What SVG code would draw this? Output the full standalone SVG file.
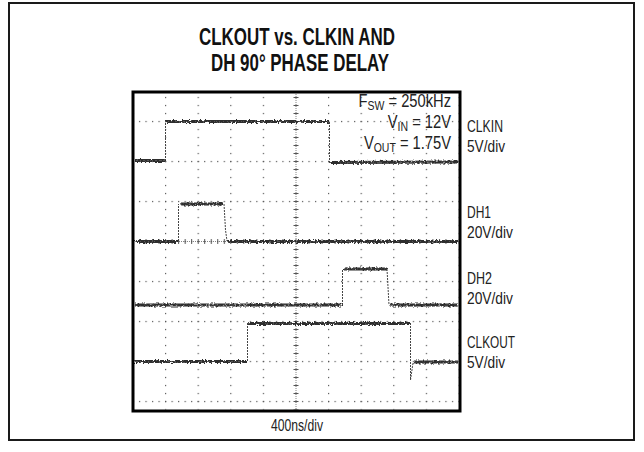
<svg xmlns="http://www.w3.org/2000/svg" width="644" height="452" viewBox="0 0 644 452">
<style>
.lbl{font-family:"Liberation Sans Narrow","Liberation Sans",Arial,sans-serif;font-size:16.5px;fill:#222}
.cond{font-family:"Liberation Sans",Arial,sans-serif;font-size:17.5px;fill:#222;text-anchor:end}
.sub{font-size:12.5px}
.ttl{font-family:"Liberation Sans Narrow","Liberation Sans",Arial,sans-serif;font-size:23px;font-weight:bold;fill:#111}
.lvl{fill:none;stroke:#2e2e2e;stroke-width:3;filter:url(#noise)}
.lvl2{fill:none;stroke:#555;stroke-width:1.2;stroke-dasharray:3 2 1 2;filter:url(#noise2)}
.edge{fill:none;stroke:#444;stroke-width:1;stroke-dasharray:2 1}
</style>
<defs>
<filter id="noise" filterUnits="userSpaceOnUse" x="0" y="0" width="644" height="452">
<feTurbulence type="fractalNoise" baseFrequency="0.55" numOctaves="2" seed="3" result="t"/>
<feDisplacementMap in="SourceGraphic" in2="t" scale="4" xChannelSelector="R" yChannelSelector="G"/>
</filter>
<filter id="noise2" filterUnits="userSpaceOnUse" x="0" y="0" width="644" height="452">
<feTurbulence type="fractalNoise" baseFrequency="0.9" numOctaves="1" seed="8" result="t"/>
<feDisplacementMap in="SourceGraphic" in2="t" scale="6" xChannelSelector="G" yChannelSelector="R"/>
</filter>
<clipPath id="boxclip"><rect x="134.5" y="93.5" width="324" height="316"/></clipPath>
<pattern id="hdots" patternUnits="userSpaceOnUse" x="165" y="120.9" width="6.52" height="40">
<rect x="0" y="0" width="1.2" height="1.2" fill="#555"/>
</pattern>
<pattern id="vdots" patternUnits="userSpaceOnUse" x="165" y="120.9" width="32.6" height="8">
<rect x="0" y="0" width="1.2" height="1.2" fill="#555"/>
</pattern>
<pattern id="vticks" patternUnits="userSpaceOnUse" x="293.5" y="121" width="5" height="8">
<rect x="0" y="0" width="5" height="1" fill="#555"/>
</pattern>
<pattern id="hticks" patternUnits="userSpaceOnUse" x="165.1" y="239" width="6.52" height="5">
<rect x="0" y="0" width="1" height="5" fill="#555"/>
</pattern>
</defs>
<rect x="0" y="0" width="644" height="452" fill="#fff"/>
<rect id="frame" x="9" y="3" width="625" height="437" fill="#fff" stroke="#1a1a1a" stroke-width="2"/>
<g id="title">
<text class="ttl" x="199" y="45" textLength="196" lengthAdjust="spacingAndGlyphs">CLKOUT vs. CLKIN AND</text>
<text class="ttl" x="211" y="71" textLength="178" lengthAdjust="spacingAndGlyphs">DH 90° PHASE DELAY</text>
</g>
<g id="grid" clip-path="url(#boxclip)">
<rect x="133" y="92" width="327" height="319" fill="url(#hdots)"/>
<rect x="133" y="92" width="327" height="319" fill="url(#vdots)"/>
<line x1="296" y1="92" x2="296" y2="411" stroke="#666" stroke-width="0.8" stroke-dasharray="1 1"/>
<line x1="133" y1="241.5" x2="460" y2="241.5" stroke="#666" stroke-width="0.8" stroke-dasharray="1 1"/>
<rect x="293.5" y="92" width="5" height="319" fill="url(#vticks)"/>
<rect x="133" y="239" width="327" height="5" fill="url(#hticks)"/>
</g>
<g id="traces">
<g id="clkin-trace">
<path class="edge" d="M165.5,161 L165.5,122 M329.5,122 L329.5,164"/>
<path class="lvl" d="M135,160.5 L165,160.5 M166,121.5 L329,121.5 M331,162.5 L458,162"/>
<path class="lvl2" d="M135,160.5 L165,160.5 M166,121.5 L329,121.5 M331,162.5 L458,162"/>
</g>
<g id="dh1-trace">
<path class="edge" d="M178.5,241 L178.5,204 M224,204 L225.5,230 L227,241"/>
<path class="lvl" d="M135,241.5 L178,241.5 M180,204 L223,204 M228,241.5 L458,241.5"/>
<path class="lvl2" d="M135,241.5 L178,241.5 M180,204 L223,204 M228,241.5 L458,241.5"/>
</g>
<g id="dh2-trace">
<path class="edge" d="M342.5,305 L342.5,269 M387,269 L389,305"/>
<path class="lvl" d="M135,305 L342,305 M344,269 L387,269 M390,305 L458,305"/>
<path class="lvl2" d="M135,305 L342,305 M344,269 L387,269 M390,305 L458,305"/>
</g>
<g id="clkout-trace">
<path class="edge" d="M247.5,361 L247.5,323 M410.5,323 L410.5,380 L413,363"/>
<path class="lvl" d="M135,361.5 L247,361.5 M249,323.5 L410,323.5 M414,362 L458,362"/>
<path class="lvl2" d="M135,361.5 L247,361.5 M249,323.5 L410,323.5 M414,362 L458,362"/>
</g>
</g>
<rect id="scope-box" x="133" y="92" width="327" height="319" fill="none" stroke="#000" stroke-width="3"/>
<g id="conditions" transform="translate(451 0) scale(0.84 1)">
<text class="cond" x="0" y="107">F<tspan class="sub" dy="3">SW</tspan><tspan dy="-3"> = 250kHz</tspan></text>
<text class="cond" x="0" y="128">V<tspan class="sub" dy="3">IN</tspan><tspan dy="-3"> = 12V</tspan></text>
<text class="cond" x="0" y="149">V<tspan class="sub" dy="3">OUT</tspan><tspan dy="-3"> = 1.75V</tspan></text>
</g>
<g id="labels">
<g id="clkin"><text class="lbl" x="467" y="132" textLength="36" lengthAdjust="spacingAndGlyphs">CLKIN</text><text class="lbl" x="467" y="152" textLength="38" lengthAdjust="spacingAndGlyphs">5V/div</text></g>
<g id="dh1"><text class="lbl" x="467" y="218" textLength="24" lengthAdjust="spacingAndGlyphs">DH1</text><text class="lbl" x="467" y="238" textLength="46" lengthAdjust="spacingAndGlyphs">20V/div</text></g>
<g id="dh2"><text class="lbl" x="467" y="284" textLength="25" lengthAdjust="spacingAndGlyphs">DH2</text><text class="lbl" x="467" y="304" textLength="46" lengthAdjust="spacingAndGlyphs">20V/div</text></g>
<g id="clkout"><text class="lbl" x="467" y="348" textLength="48" lengthAdjust="spacingAndGlyphs">CLKOUT</text><text class="lbl" x="467" y="368" textLength="38" lengthAdjust="spacingAndGlyphs">5V/div</text></g>
</g>
<text id="timebase" class="lbl" x="271" y="431" textLength="52" lengthAdjust="spacingAndGlyphs">400ns/div</text>
</svg>
